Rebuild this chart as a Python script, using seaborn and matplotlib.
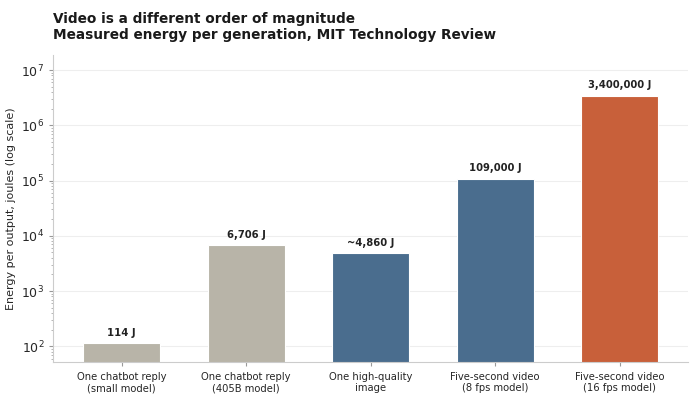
import matplotlib
matplotlib.use("Agg")
import matplotlib.pyplot as plt
import seaborn as sns
import pandas as pd

# data
categories = [
    "One chatbot reply\n(small model)",
    "One chatbot reply\n(405B model)",
    "One high-quality\nimage",
    "Five-second video\n(8 fps model)",
    "Five-second video\n(16 fps model)",
]
energy_j = [114, 6706, 4860, 109000, 3400000]
value_labels = ["114 J", "6,706 J", "~4,860 J", "109,000 J", "3,400,000 J"]
bar_colors = ["#b8b4a8", "#b8b4a8", "#4a6d8e", "#4a6d8e", "#c8603a"]

df = pd.DataFrame({"category": categories, "energy": energy_j})

sns.set_theme(style="white")
plt.rcParams["font.family"] = ["DejaVu Sans"]

fig, ax = plt.subplots(figsize=(7, 4.05), dpi=100)
sns.barplot(data=df, x="category", y="energy", hue="category",
            palette=bar_colors, saturation=1, legend=False, width=0.62,
            edgecolor="white", linewidth=0.8, ax=ax)
ax.set_yscale("log")
ax.set_ylim(51, 1.9e7)
ax.set_xlim(-0.55, 4.55)

for i, (v, lab) in enumerate(zip(energy_j, value_labels)):
    ax.annotate(lab, (i, v), xytext=(0, 4), textcoords="offset points",
                ha="center", va="bottom", fontsize=7.2, fontweight="bold",
                color="#222222")

ax.yaxis.grid(True, which="major", color="#eeeeee", linewidth=0.8)
ax.set_axisbelow(True)
for s in ["top", "right"]:
    ax.spines[s].set_visible(False)
for s in ["left", "bottom"]:
    ax.spines[s].set_color("#cccccc")
    ax.spines[s].set_linewidth(0.8)

ax.tick_params(axis="y", which="major", labelsize=9, left=True, length=3,
               color="#999999", width=0.8)
ax.tick_params(axis="y", which="minor", left=True, length=1.5,
               color="#aaaaaa", width=0.6)
ax.tick_params(axis="x", labelsize=7.2, bottom=True, length=3,
               color="#999999", width=0.8)

ax.set_xlabel("")
ax.set_ylabel("Energy per output, joules (log scale)", fontsize=8)
ax.set_title("Video is a different order of magnitude\n"
             "Measured energy per generation, MIT Technology Review",
             loc="left", fontsize=9.8, fontweight="bold", color="#1a1a1a",
             pad=11)

plt.subplots_adjust(left=0.076, right=0.983, top=0.865, bottom=0.105)
plt.savefig("out.png", dpi=100)
